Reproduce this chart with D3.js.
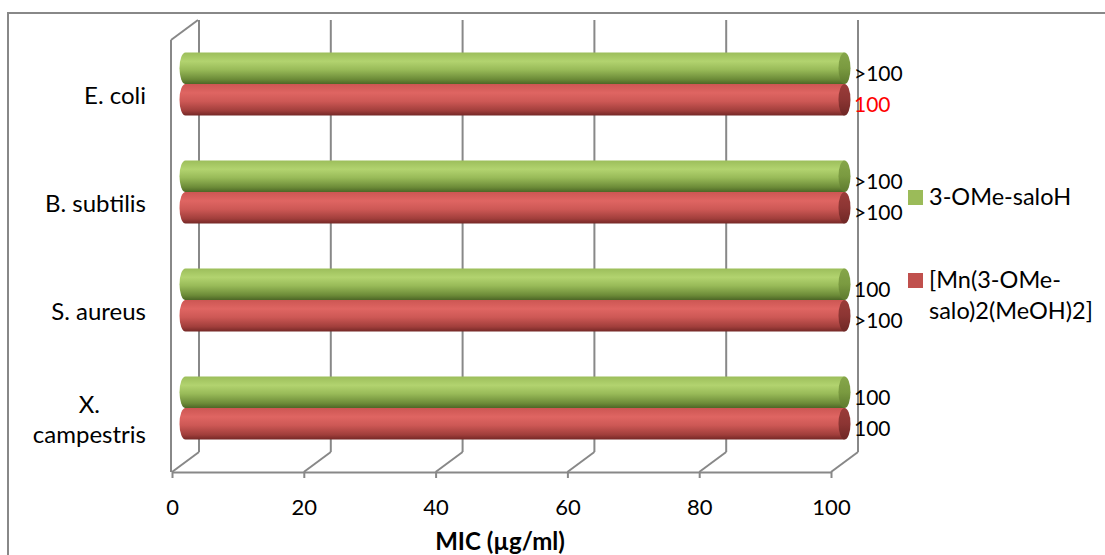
<!DOCTYPE html>
<html>
<head>
<meta charset="utf-8">
<script src="https://cdn.jsdelivr.net/npm/d3@7"></script>
<style>
  html, body { margin: 0; padding: 0; background: #fff; }
  svg text { font-family: Lato, "Open Sans", "DejaVu Sans", sans-serif; }
</style>
</head>
<body>
<svg id="chart" width="1105" height="555"></svg>
<script>
// ---- data ----
const categories = ["E. coli", "B. subtilis", "S. aureus", "X. campestris"];
const seriesNames = ["3-OMe-saloH", "[Mn(3-OMe-salo)2(MeOH)2]"];
const ligandValues = [100, 100, 100, 100];
const complexValues = [100, 100, 100, 100];
const ligandLabels = [">100", ">100", "100", "100"];
const complexLabels = ["100", ">100", ">100", "100"];
const complexLabelColors = ["#ff0000", "#000000", "#000000", "#000000"];
const tickValues = [0, 20, 40, 60, 80, 100];
const axisTitle = "MIC (µg/ml)";
const categoryLines = [["E. coli"], ["B. subtilis"], ["S. aureus"], ["X.", "campestris"]];
const legendLines = [["3-OMe-saloH"], ["[Mn(3-OMe-", "salo)2(MeOH)2]"]];

// ---- layout ----
const svg = d3.select("#chart");
const front = { left: 172, right: 831, top: 40, bottom: 472 };
const depthX = 27, depthY = -20;
const gridColor = "#888888";

const x = d3.scaleLinear().domain([0, 100]).range([front.left, front.right]);
const y = d3.scaleBand().domain(categories).range([front.top, front.bottom]).padding(0);
const ySub = d3.scaleBand().domain(seriesNames).range([0, y.bandwidth()])
  .paddingInner(0).paddingOuter(0.714);

// outer border
svg.append("rect").attr("x", 8).attr("y", 13).attr("width", 1110).attr("height", 560)
  .attr("fill", "none").attr("stroke", "#888").attr("stroke-width", 2);

// defs: gradients
const defs = svg.append("defs");
function vgrad(id, stops) {
  const g = defs.append("linearGradient").attr("id", id)
    .attr("x1", 0).attr("y1", 0).attr("x2", 0).attr("y2", 1);
  stops.forEach(s => g.append("stop").attr("offset", s[0]).attr("stop-color", s[1]));
}
vgrad("gGreen", [[0, "#9cbe5b"], [0.28, "#b2d36f"], [0.55, "#98ba58"], [0.85, "#6c8b38"], [1, "#4d6626"]]);
vgrad("gRed", [[0, "#cc5653"], [0.28, "#df6562"], [0.55, "#cd5855"], [0.85, "#a03e3b"], [1, "#742826"]]);
vgrad("gGreenCap", [[0, "#86a64a"], [0.5, "#7a9a40"], [1, "#5d7a2e"]]);
vgrad("gRedCap", [[0, "#9a3c39"], [0.5, "#8c3533"], [1, "#6e2725"]]);

const grid = svg.append("g");
// left wall
grid.append("line").attr("x1", front.left - 1).attr("y1", front.top).attr("x2", front.left - 1).attr("y2", front.bottom)
  .attr("stroke", gridColor).attr("stroke-width", 2);
grid.append("line").attr("x1", front.left - 1).attr("y1", front.top).attr("x2", front.left - 1 + depthX).attr("y2", front.top + depthY)
  .attr("stroke", gridColor).attr("stroke-width", 2);
// back gridlines and floor diagonals
tickValues.forEach(t => {
  const xf = x(t);
  grid.append("line").attr("x1", xf + depthX).attr("y1", front.top + depthY)
    .attr("x2", xf + depthX).attr("y2", front.bottom + depthY)
    .attr("stroke", gridColor).attr("stroke-width", 2);
  grid.append("line").attr("x1", xf).attr("y1", front.bottom)
    .attr("x2", xf + depthX).attr("y2", front.bottom + depthY)
    .attr("stroke", gridColor).attr("stroke-width", 2);
});

// x axis (front floor edge)
const axis = d3.axisBottom(x).tickValues(tickValues).tickSize(6).tickSizeOuter(0);
const ax = svg.append("g").attr("transform", `translate(0,${front.bottom})`).call(axis);
ax.select(".domain").attr("stroke", gridColor).attr("stroke-width", 2);
ax.selectAll(".tick line").attr("stroke", gridColor).attr("stroke-width", 2);
ax.selectAll(".tick text").attr("y", 35).attr("dy", "0.35em")
  .attr("font-size", 22).attr("fill", "#000").style("font-family", "Lato, 'Open Sans', sans-serif");

// axis title
svg.append("text").attr("x", 500).attr("y", 542).attr("dy", "0.35em")
  .attr("text-anchor", "middle").attr("font-size", 24).attr("font-weight", "bold")
  .text(axisTitle);

// category labels (block right-aligned, lines centred within the block)
const labelRight = 146;
categories.forEach((c, i) => {
  const lines = categoryLines[i];
  const cy = y(c) + y.bandwidth() / 2 + 2;
  const lh = 30;
  const g = svg.append("g");
  const texts = lines.map((ln, j) => g.append("text")
    .attr("y", cy + (j - (lines.length - 1) / 2) * lh)
    .attr("dy", "0.35em").attr("text-anchor", "middle").attr("font-size", 24).text(ln));
  const maxW = d3.max(texts, t => t.node().getComputedTextLength());
  texts.forEach(t => t.attr("x", labelRight - maxW / 2));
});

// cylinders
const seriesData = [
  { name: seriesNames[0], values: ligandValues, labels: ligandLabels, fill: "url(#gGreen)", cap: "url(#gGreenCap)", colors: null },
  { name: seriesNames[1], values: complexValues, labels: complexLabels, fill: "url(#gRed)", cap: "url(#gRedCap)", colors: complexLabelColors }
];
const midX = depthX / 2, midY = depthY / 2;
const rx = 6;
const bars = svg.append("g");
seriesData.forEach(s => {
  categories.forEach((c, i) => {
    const y0 = y(c) + ySub(s.name) + midY;
    const h = ySub.bandwidth();
    const xl = x(0) + midX, xr = x(s.values[i]) + midX;
    const ry = h / 2;
    bars.append("path")
      .attr("d", `M${xl},${y0} L${xr},${y0} L${xr},${y0 + h} L${xl},${y0 + h} A${rx},${ry} 0 0 1 ${xl},${y0} Z`)
      .attr("fill", s.fill);
    bars.append("ellipse").attr("cx", xr).attr("cy", y0 + ry).attr("rx", rx).attr("ry", ry)
      .attr("fill", s.cap);
  });
});

// value labels
seriesData.forEach(s => {
  categories.forEach((c, i) => {
    const cy = y(c) + ySub(s.name) + midY + ySub.bandwidth() / 2 + 5;
    svg.append("text").attr("x", front.right + depthX - 4).attr("y", cy).attr("dy", "0.35em")
      .attr("font-size", 21).attr("fill", s.colors ? s.colors[i] : "#000").text(s.labels[i]);
  });
});

// legend
const legendColors = ["#9bbb59", "#c0504d"];
const legendY = [197, 280];
legendLines.forEach((lines, i) => {
  svg.append("rect").attr("x", 908).attr("y", legendY[i] - 7).attr("width", 15).attr("height", 15)
    .attr("fill", legendColors[i]);
  lines.forEach((ln, j) => {
    svg.append("text").attr("x", 929).attr("y", legendY[i] + j * 31).attr("dy", "0.35em")
      .attr("font-size", 23.5).text(ln);
  });
});
</script>
</body>
</html>
